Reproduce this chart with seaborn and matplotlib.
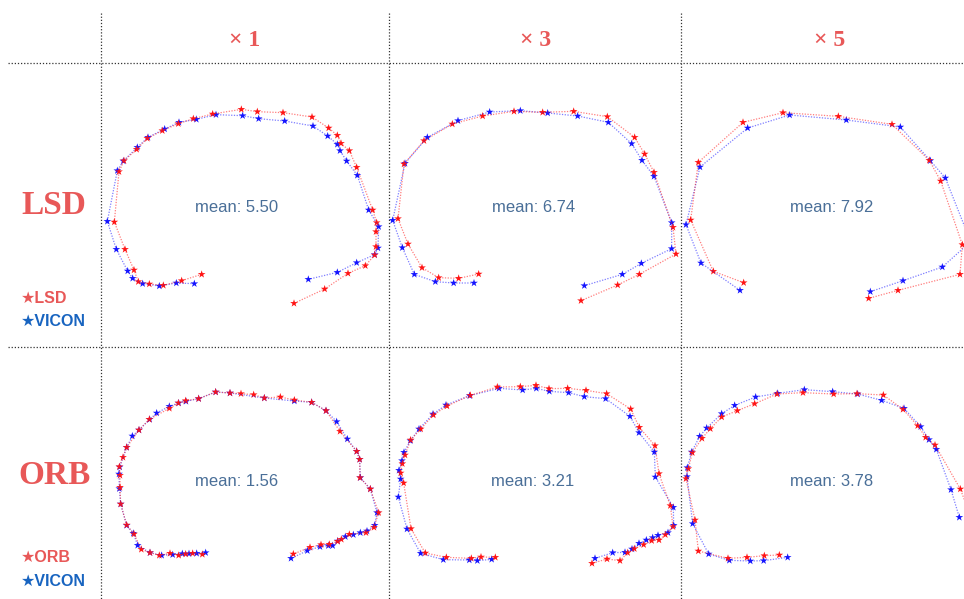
import matplotlib
matplotlib.use("Agg")
import matplotlib.pyplot as plt
import seaborn as sns
import pandas as pd

# ---------------- data (trajectory points, panel-local units) ----------------
LSD1_EST = [(305,553),(245,572),(190,586),(148,582),(115,575),(102,540),(75,478),(43,396),
            (57,245),(72,212),(110,178),(142,145),(187,122),(235,101),(280,86),(338,72),
            (424,58),(472,65),(549,68),(636,81),(686,114),(712,136),(723,160),(748,182),
            (770,232),(818,360),(830,398),(828,425),(828,470),(824,495),(796,527),(744,550),
            (674,597),(582,640)]
LSD1_GT = [(283,581),(229,579),(178,588),(128,581),(98,565),(83,543),(49,478),(22,394),
           (52,242),(70,213),(112,172),(144,142),(194,117),(237,97),(289,88),(348,74),
           (428,77),(476,86),(554,93),(639,108),(683,138),(712,163),(720,182),(740,213),
           (772,256),(806,360),(836,410),(834,474),(824,494),(770,518),(712,547),(625,568)]

LSD3_EST = [(281,552),(221,565),(161,563),(111,533),(69,462),(39,386),(57,222),(117,152),
            (202,102),(293,78),(387,64),(473,67),(566,64),(667,80),(749,142),(779,192),
            (807,247),(864,412),(873,492),(763,553),(698,585),(588,632)]
LSD3_GT = [(267,579),(206,579),(151,575),(88,553),(52,473),(23,391),(60,220),(127,142),
           (219,92),(314,66),(406,62),(488,69),(578,78),(670,97),(740,161),(771,211),
           (807,259),(860,398),(860,476),(769,520),(712,553),(598,587)]

LSD5_EST = [(191,578),(100,544),(32,390),(55,217),(189,97),(309,68),(475,79),(636,103),
            (748,211),(782,273),(847,464),(840,553),(654,601),(566,625)]
LSD5_GT = [(180,601),(63,519),(18,404),(60,231),(203,114),(329,75),(499,90),(661,111),
           (751,212),(796,264),(872,455),(787,531),(669,572),(571,605)]

ORB1_EST = [(307,553),(278,550),(257,552),(236,556),(210,550),(178,556),(150,548),(124,538),
            (102,492),(80,465),(62,402),(60,352),(60,316),(58,290),(69,262),(80,232),
            (117,180),(148,148),(208,115),(235,99),(257,92),(296,86),(347,66),(390,69),
            (423,71),(461,74),(493,84),(541,81),(583,90),(635,97),(678,122),(720,184),
            (770,244),(779,268),(780,323),(811,357),(836,428),(822,472),(798,488),(748,493),
            (724,508),(713,514),(688,523),(663,524),(630,532),(580,552)]
ORB1_GT = [(317,548),(290,550),(267,551),(247,551),(218,554),(185,556),(150,548),(113,526),
           (100,490),(80,466),(62,402),(58,356),(57,312),(59,291),(80,232),(97,198),
           (117,180),(149,148),(170,129),(208,109),(236,99),(258,94),(296,86),(347,66),
           (390,69),(493,84),(583,93),(635,97),(678,122),(710,155),(742,207),(770,244),
           (779,268),(781,323),(811,357),(831,428),(824,466),(801,483),(781,488),(760,494),
           (736,500),(713,513),(698,527),(685,527),(660,530),(622,542),(573,565)]

ORB3_EST = [(331,562),(288,561),(259,565),(184,562),(121,549),(78,476),(56,339),(47,309),
            (52,281),(60,255),(77,210),(107,177),(145,135),(186,108),(256,76),(337,51),
            (406,50),(453,46),(492,56),(548,55),(603,61),(665,71),(737,117),(763,172),
            (810,227),(822,311),(856,407),(864,470),(841,494),(822,510),(800,512),(776,524),
            (748,536),(728,548),(705,572),(666,567),(621,580)]
ORB3_GT = [(320,568),(277,572),(253,570),(175,569),(107,550),(66,477),(40,381),(47,327),
           (42,301),(51,272),(57,247),(76,212),(102,177),(144,132),(183,105),(254,77),
           (342,55),(413,60),(454,55),(493,64),(551,68),(598,80),(662,86),(735,139),
           (762,188),(808,246),(811,321),(865,412),(866,466),(849,488),(819,496),(803,503),
           (784,510),(762,520),(741,537),(720,547),(683,548),(630,565)]

ORB5_EST = [(298,555),(253,557),(201,562),(144,565),(55,543),(45,450),(18,326),(25,296),
            (37,248),(66,205),(91,176),(125,141),(172,122),(224,101),(291,72),(369,68),
            (461,72),(531,71),(610,75),(669,118),(713,167),(737,202),(765,225),(841,357),
            (872,440)]
ORB5_GT = [(323,562),(251,572),(211,573),(148,571),(86,552),(38,461),(21,320),(22,293),
           (35,246),(59,199),(80,174),(125,131),(164,106),(227,81),(293,70),(373,59),
           (458,65),(533,72),(605,91),(672,115),(722,170),(747,209),(769,238),(813,359),
           (838,442)]

SCALES = ["× 1", "× 3", "× 5"]
METHODS = ["LSD", "ORB"]
MEANS = [[5.50, 6.74, 7.92], [1.56, 3.21, 3.78]]
PANELS = [[(LSD1_EST, LSD1_GT), (LSD3_EST, LSD3_GT), (LSD5_EST, LSD5_GT)],
          [(ORB1_EST, ORB1_GT), (ORB3_EST, ORB3_GT), (ORB5_EST, ORB5_GT)]]

# ---------------- layout / style ----------------
W, H = 964, 599
RED_MARK = "#ff1414"
BLUE_MARK = "#1414ff"
LABEL_RED = "#e85858"
LEGEND_BLUE = "#1864c0"
MEAN_COL = "#4a6f98"

# panel boxes in figure pixels: (left, top, width, height); data span = 3x box
BOXES = [[(100, 90, 290, 250), (385, 90, 300, 230), (680, 90, 284, 230)],
         [(100, 370, 290, 220), (385, 370, 300, 220), (680, 370, 284, 220)]]
MEAN_POS = [[(237, 207), (534, 207), (832, 207)], [(237, 482), (533, 482), (832, 482)]]

sns.set_style("white")
plt.rcParams["font.family"] = ["Liberation Sans", "DejaVu Sans"]

fig = plt.figure(figsize=(W / 100, H / 100), dpi=100)
bg = fig.add_axes([0, 0, 1, 1])
bg.set_xlim(0, W)
bg.set_ylim(H, 0)
bg.axis("off")

grid_kw = dict(color="#333333", linestyle=(0, (1, 1.5)), linewidth=0.9)
bg.plot([8, W], [63, 63], **grid_kw)
bg.plot([8, W], [347, 347], **grid_kw)
for gx in (101, 389, 681):
    bg.plot([gx, gx], [13, H], **grid_kw)

serif = ["Liberation Serif", "DejaVu Serif"]
for label, cx in zip(SCALES, (245, 536, 830)):
    bg.text(cx, 40, label, ha="center", va="center", color=LABEL_RED,
            fontsize=17, fontweight="bold", family=serif)
for label, cy in zip(METHODS, (206, 476)):
    bg.text(54, cy, label, ha="center", va="center", color=LABEL_RED,
            fontsize=24, fontweight="bold", family=serif)

# legends
for name, y1, y2 in (("LSD", 298, 321), ("ORB", 557, 581)):
    bg.text(21, y1, "★" + name, ha="left", va="center", color=LABEL_RED,
            fontsize=11.5, fontweight="bold", family=["Liberation Sans", "DejaVu Sans"])
    bg.text(21, y2, "★VICON", ha="left", va="center", color=LEGEND_BLUE,
            fontsize=11.5, fontweight="bold", family=["Liberation Sans", "DejaVu Sans"])

for r in range(2):
    for c in range(3):
        est, gt = PANELS[r][c]
        left, top, w, h = BOXES[r][c]
        ax = fig.add_axes([left / W, 1 - (top + h) / H, w / W, h / H])
        ax.patch.set_alpha(0)
        df = pd.concat([
            pd.DataFrame(gt, columns=["x", "y"]).assign(series="VICON", order=range(len(gt))),
            pd.DataFrame(est, columns=["x", "y"]).assign(series=METHODS[r], order=range(len(est))),
        ], ignore_index=True)
        pal = {"VICON": BLUE_MARK, METHODS[r]: RED_MARK}
        sns.lineplot(data=df, x="x", y="y", hue="series", units="series", estimator=None,
                     sort=False, palette=pal, linestyle=(0, (1, 1.2)), linewidth=0.9,
                     alpha=0.55, legend=False, ax=ax)
        sns.scatterplot(data=df, x="x", y="y", hue="series", palette=pal, marker="*",
                        s=34, linewidth=0, legend=False, ax=ax)
        ax.set_xlim(0, w * 3)
        ax.set_ylim(h * 3, 0)
        ax.axis("off")
        mx, my = MEAN_POS[r][c]
        bg.text(mx, my, f"mean: {MEANS[r][c]:.2f}", ha="center", va="center",
                color=MEAN_COL, fontsize=12)

fig.savefig("out.png", dpi=100)
